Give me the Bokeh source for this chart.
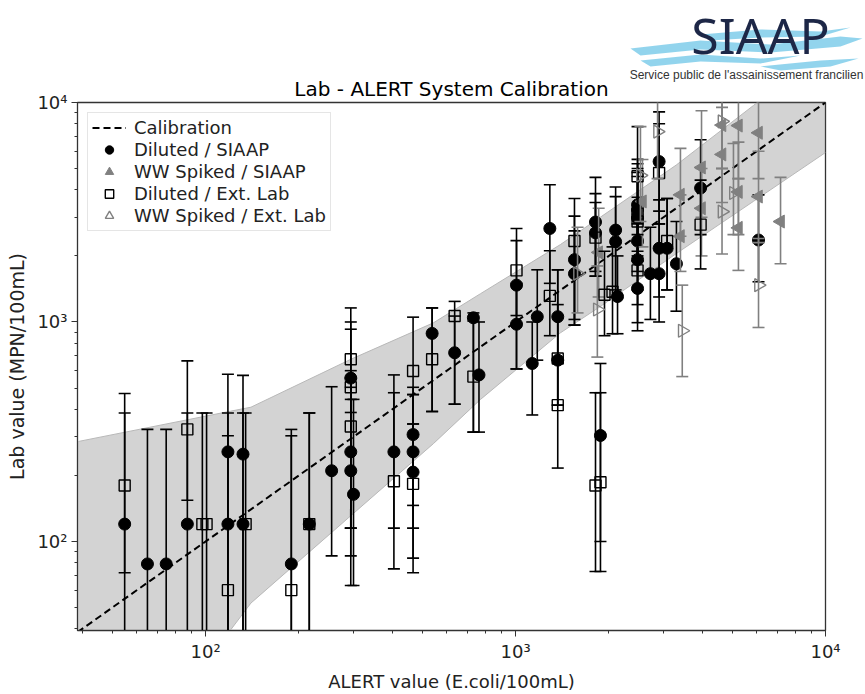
import numpy as np
from bokeh.plotting import figure
from bokeh.models import (Range1d, Legend, LegendItem, CustomJSTickFormatter, LogTicker,
                          ColumnDataSource)
from bokeh.core.properties import value
from bokeh.embed import file_html
from bokeh.resources import INLINE

# ---------------- data ----------------
# Calibration line
cal_x = [38.6, 10000]
cal_y = [38.6, 10000]

# Confidence band
band_x = [38.6, 120, 140, 294, 543, 771, 1396, 1880, 3300, 5860, 10000]
band_upper = [285, 392, 409, 676, 991, 1346, 2254, 3006, 5190, 9700, 17800]
band_lower = [5, 39.3, 52.4, 131, 279, 444, 893, 1178, 2050, 3548, 5916]

# Diluted / SIAAP
ds_x = [54.8, 64.9, 74.6, 87.3, 118, 118, 132, 132, 189, 216, 255, 294, 294, 294, 300,
        405, 467, 467, 467, 538, 636, 731, 762, 1007, 1007, 1132, 1175, 1290, 1368, 1368,
        1549, 1549, 1811, 1811, 1879, 2103, 2103, 2133, 2475, 2475, 2475, 2475, 2475, 2475,
        2723, 2905, 2905, 2905, 3083, 3304, 3954, 6080]
ds_y = [120, 79, 79, 120, 256, 120, 250, 120, 79, 120, 210, 555, 256, 210, 164,
        256, 307, 256, 207, 887, 724, 1045, 574, 1472, 977, 647, 1057, 2667, 1057, 670,
        1923, 1660, 2853, 2548, 304, 2622, 2323, 1306, 3419, 3240, 2973, 2338, 1923, 1422,
        1660, 5382, 2167, 1660, 2167, 1842, 4077, 2363]
ds_lo = [20, 20, 20, 20, 20, 20, 20, 20, 20, 20, 86, 115, 86, 63, 63,
         115, 146, 115, 84, 391, 422, 315, 315, 611, 611, 377, 670, 1500, 670, 418,
         968, 968, 1700, 1617, 100, 1400, 1300, 884, 2100, 2000, 1900, 1400, 1200, 912,
         1027, 3200, 1300, 1000, 1400, 1120, 2500, 1525]
ds_hi = [472, 324, 324, 385, 578, 303, 571, 385, 324, 385, 507, 927, 555, 504, 444,
         574, 504, 467, 467, 1159, 1064, 1100, 1000, 2347, 1500, 1000, 1729, 4217, 1729, 1200,
         3036, 2600, 4560, 3846, 647, 4118, 3724, 2000, 5508, 5260, 4800, 3700, 3100, 2300,
         2700, 9060, 3600, 2800, 3652, 2868, 6761, 3796]

# WW Spiked / SIAAP
ws_x = [1854, 2567, 3404, 3404, 3981, 3981, 4636, 4636, 5237, 5237, 5237, 6080, 6080, 7161]
ws_y = [2075, 3541, 3796, 2460, 5058, 3296, 7888, 5800, 7849, 3915, 2684, 7278, 3728, 2868]
ws_lo = [1300, 2200, 2460, 1700, 3000, 2000, 5000, 3500, 4500, 2500, 1718, 4500, 2300, 1842]
ws_hi = [3300, 5500, 6180, 3796, 9170, 5000, 12000, 9500, 12000, 6600, 4500, 12000, 6000, 4560]

# Diluted / Ext. Lab
de_x = [54.8, 87.3, 97.6, 100.7, 118, 134.6, 189, 216, 294, 294, 294, 405, 467, 467,
        538, 636, 731, 1007, 1290, 1368, 1368, 1549, 1811, 1811, 1879, 1936, 2055,
        2475, 2475, 2475, 2475, 2905, 3083, 3954]
de_y = [180, 324, 120, 120, 60, 120, 60, 120, 676, 504, 334, 188, 598, 183,
        676, 1064, 564, 1718, 1315, 682, 418, 2338, 2422, 180, 186, 1330, 1374,
        4616, 3118, 2868, 1718, 4773, 2338, 2777]
de_lo = [72, 154, 20, 20, 20, 20, 20, 20, 444, 387, 115, 75, 343, 72,
         391, 422, 315, 1070, 866, 418, 216, 1027, 1617, 73, 73, 866, 884,
         2500, 1900, 1700, 993, 2800, 1400, 1745]
de_hi = [385, 665, 385, 385, 385, 385, 303, 385, 1159, 1000, 600, 476, 1052, 343,
         1159, 1241, 1010, 2667, 2113, 1729, 682, 3652, 3500, 476, 476, 2100, 2200,
         7768, 5000, 4600, 2800, 8000, 3652, 4430]

# WW Spiked / Ext. Lab
we_x = [1585, 1836, 2529, 2872, 3450, 4636, 4636, 5047, 6080]
we_y = [1660, 1140, 4660, 7373, 912, 8200, 3186, 3870, 1472]
we_lo = [1100, 692, 2868, 4500, 564, 5000, 2040, 2500, 944]
we_hi = [2700, 1800, 7768, 12000, 1472, 12000, 5000, 6500, 2400]

# logo texts
logo_title = ["SIAAP"]
logo_sub = ["Service public de l'assainissement francilien"]

# ---------------- main figure ----------------
FONT = "DejaVu Sans"
p = figure(width=865, height=694, x_axis_type="log", y_axis_type="log",
           x_range=Range1d(38.6, 10000), y_range=Range1d(39.3, 10000),
           output_backend="svg", toolbar_location=None,
           min_border_left=77, min_border_right=40, min_border_top=102, min_border_bottom=53,
           title="Lab - ALERT System Calibration")
p.title.align = "center"
p.title.text_font = FONT
p.title.text_font_size = "20px"
p.title.text_font_style = "normal"
p.title.text_color = "black"
p.title.standoff = 4
p.grid.visible = False
p.outline_line_color = "#333333"
p.outline_line_width = 1.3
p.background_fill_color = "white"
p.border_fill_color = "white"

fmt = CustomJSTickFormatter(code="""
const e = Math.round(Math.log10(tick));
const s = {'0':'\u2070','1':'\u00b9','2':'\u00b2','3':'\u00b3','4':'\u2074','5':'\u2075','-':'\u207b'};
return '10' + String(e).split('').map(c => s[c]).join('');
""")
for ax in (p.xaxis[0], p.yaxis[0]):
    ax.ticker = LogTicker(mantissas=[1], num_minor_ticks=10, desired_num_ticks=3)
    ax.formatter = fmt
    ax.major_label_text_font = FONT
    ax.major_label_text_font_size = "18px"
    ax.major_label_text_color = "#222222"
    ax.axis_label_text_font = FONT
    ax.axis_label_text_font_style = "normal"
    ax.axis_label_text_color = "#222222"
    ax.axis_line_color = "#333333"
    ax.major_tick_line_color = "#333333"
    ax.minor_tick_line_color = "#333333"
    ax.major_tick_out = 6
    ax.major_tick_in = 0
    ax.minor_tick_out = 3
    ax.minor_tick_in = 0
    ax.major_label_standoff = 4
    ax.axis_label_standoff = 6
p.xaxis.axis_label = "ALERT value (E.coli/100mL)"
p.xaxis.axis_label_text_font_size = "18px"
p.yaxis.axis_label = "Lab value (MPN/100mL)"
p.yaxis.axis_label_text_font_size = "19px"
p.yaxis.major_label_orientation = "horizontal"

# band
p.varea(x=band_x, y1=band_lower, y2=band_upper, fill_color="#808080", fill_alpha=0.35)
p.line(band_x, band_upper, line_color="#b8b8b8", line_width=1)
p.line(band_x, band_lower, line_color="#b8b8b8", line_width=1)

# calibration
cal = p.line(cal_x, cal_y, line_color="black", line_width=2, line_dash="7 4")


def errbars(x, lo, hi, color):
    src = ColumnDataSource(dict(x=x, lo=lo, hi=hi))
    p.segment(x0="x", y0="lo", x1="x", y1="hi", source=src, line_color=color, line_width=1.6)
    p.scatter(x="x", y="lo", source=src, marker="dash", size=12, line_color=color, line_width=1.6)
    p.scatter(x="x", y="hi", source=src, marker="dash", size=12, line_color=color, line_width=1.6)


errbars(ds_x, ds_lo, ds_hi, "black")
r_ds = p.scatter(ds_x, ds_y, marker="circle", size=12, fill_color="black", line_color="black")

errbars(ws_x, ws_lo, ws_hi, "#808080")
r_ws = p.scatter(ws_x, ws_y, marker="triangle", size=13, angle=np.pi / 2,
                 fill_color="#808080", line_color="#808080")

errbars(de_x, de_lo, de_hi, "black")
r_de = p.scatter(de_x, de_y, marker="square", size=11, fill_alpha=0,
                 line_color="black", line_width=1.4)

errbars(we_x, we_lo, we_hi, "#808080")
r_we = p.scatter(we_x, we_y, marker="triangle", size=13, angle=-np.pi / 2, fill_alpha=0,
                 line_color="#808080", line_width=1.4)

legend = Legend(items=[
    LegendItem(label="Calibration", renderers=[cal]),
    LegendItem(label="Diluted / SIAAP", renderers=[r_ds]),
    LegendItem(label="WW Spiked / SIAAP", renderers=[r_ws]),
    LegendItem(label="Diluted / Ext. Lab", renderers=[r_de]),
    LegendItem(label="WW Spiked / Ext. Lab", renderers=[r_we]),
], location="top_left")
legend.label_text_font = FONT
legend.label_text_font_size = "18px"
legend.label_text_color = "#222222"
legend.border_line_color = "#cccccc"
legend.border_line_width = 1
legend.background_fill_alpha = 0.85
legend.glyph_width = 34
legend.glyph_height = 21
legend.label_height = 21
legend.label_standoff = 8
legend.spacing = 1
legend.padding = 4
legend.margin = 10
p.add_layout(legend)

# ---------------- logo (separate small figure, placed at the top right) ----------------
LX = 615
logo = figure(width=250, height=86, x_range=Range1d(0, 250), y_range=Range1d(86, 0),
              x_axis_type=None, y_axis_type=None, output_backend="svg", toolbar_location=None,
              min_border=0, outline_line_color=None,
              styles={"position": "absolute", "left": f"{LX}px", "top": "0px", "z-index": "5"})
logo.grid.visible = False
logo.background_fill_alpha = 0
logo.border_fill_alpha = 0
wave_xs = [[630, 700, 770, 840, 862, 840, 770, 700, 640],
           [640, 700, 760, 800, 760, 700, 650],
           [700, 760, 820, 850, 820, 760, 710],
           [760, 820, 858, 830, 780]]
wave_ys = [[48, 40, 44, 36, 38, 46, 52, 49, 55],
           [60, 54, 58, 55, 63, 61, 66],
           [34, 29, 31, 27, 36, 37, 40],
           [66, 60, 58, 66, 70]]
logo.patches([[v - LX for v in xs] for xs in wave_xs], wave_ys,
             fill_color="#7fcdea", fill_alpha=0.85, line_alpha=0)
logo.text(x=[760 - LX], y=[34], text=logo_title, text_align="center", text_baseline="middle",
          text_font=value("Noto Sans"), text_font_size="50px", text_color="#1d2747")
logo.text(x=[746 - LX], y=[74], text=logo_sub, text_align="center", text_baseline="middle",
          text_font=value("Liberation Sans"), text_font_size="12px", text_color="#333333")

open("out.html", "w").write(file_html([p, logo], INLINE))
